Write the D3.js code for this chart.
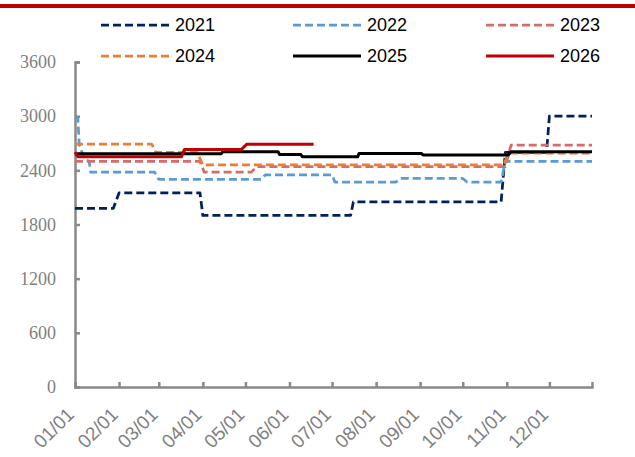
<!DOCTYPE html>
<html>
<head>
<meta charset="utf-8">
<script src="https://cdn.jsdelivr.net/npm/d3@7"></script>
<style>
  html, body { margin: 0; padding: 0; background: #fff; }
  svg { display: block; }
</style>
</head>
<body>
<svg id="chart" width="635" height="457"></svg>
<script>
// tick labels
const months = ['01/01', '02/01', '03/01', '04/01', '05/01', '06/01', '07/01', '08/01', '09/01', '10/01', '11/01', '12/01']
const yTicks = [0, 600, 1200, 1800, 2400, 3000, 3600]
const years = ['2021', '2022', '2023', '2024', '2025', '2026']

// series values, [month-day, value]
const series2021 = [['01-01', 1980], ['01-28', 1980], ['02-01', 2150], ['03-30', 2150], ['04-01', 1900], ['07-14', 1900], ['07-16', 2050], ['10-28', 2050], ['10-31', 2600], ['11-29', 2600], ['12-01', 3000], ['12-31', 3000]]
const series2022 = [['01-01', 3000], ['01-03', 2980], ['01-04', 2680], ['01-08', 2520], ['01-11', 2500], ['01-12', 2380], ['02-26', 2380], ['03-01', 2300], ['05-12', 2300], ['05-15', 2350], ['07-01', 2350], ['07-03', 2270], ['08-15', 2270], ['08-18', 2310], ['10-01', 2310], ['10-04', 2270], ['10-28', 2270], ['10-31', 2500], ['12-31', 2500]]
const series2023 = [['01-01', 2500], ['03-30', 2500], ['04-02', 2380], ['05-05', 2380], ['05-09', 2440], ['10-31', 2440], ['11-04', 2680], ['12-31', 2680]]
const series2024 = [['01-01', 2690], ['02-24', 2690], ['02-27', 2600], ['03-28', 2600], ['04-01', 2460], ['10-30', 2460], ['11-02', 2590], ['12-31', 2590]]
const series2025 = [['01-01', 2585], ['04-14', 2585], ['04-15', 2605], ['05-24', 2605], ['05-25', 2576], ['06-09', 2576], ['06-10', 2550], ['07-19', 2550], ['07-20', 2587], ['09-02', 2587], ['09-03', 2570], ['11-02', 2570], ['11-04', 2605], ['12-31', 2605]]
const series2026 = [['01-01', 2600], ['01-03', 2550], ['03-17', 2550], ['03-19', 2630], ['04-28', 2630], ['05-02', 2690], ['06-18', 2690]]

const colors = ['#002060', '#5b9bd5', '#d46c6c', '#ed7d31', '#000000', '#c00000']
const dashed = [true, true, true, true, false, false]

const width = 635
const height = 457
const margin = { top: 62, right: 43, bottom: 70, left: 75 }

// all series plotted on one reference year
const parse = d3.timeParse('%Y-%m-%d')
const toDate = (md) => parse('2025-' + md)

const allSeries = [series2021, series2022, series2023, series2024, series2025, series2026].map(
  (s, i) => ({
    name: years[i],
    color: colors[i],
    dashed: dashed[i],
    values: s.map((d) => ({ date: toDate(d[0]), value: d[1] })),
  })
)

const svg = d3.select('#chart')

// top red rule
svg
  .append('rect')
  .attr('x', 0)
  .attr('y', 4)
  .attr('width', width)
  .attr('height', 4)
  .attr('fill', '#c00000')

const x = d3
  .scaleTime()
  .domain([toDate('01-01'), toDate('12-31')])
  .range([margin.left, width - margin.right])

const y = d3
  .scaleLinear()
  .domain([0, 3600])
  .range([height - margin.bottom, margin.top])

// y axis
svg
  .append('g')
  .attr('id', 'yAxis')
  .attr('transform', `translate(${margin.left},0)`)
  .call(
    d3
      .axisLeft(y)
      .tickValues(yTicks)
      .tickFormat(d3.format('d'))
      .tickSize(-5)
      .tickSizeOuter(-5)
      .tickPadding(19)
  )
  .call((g) => {
    g.selectAll('path, line').attr('stroke', '#898989').attr('stroke-width', 2.5)
    g.selectAll('text')
      .style('font-family', '"Liberation Serif", "Times New Roman", serif')
      .style('font-size', '18px')
      .attr('fill', '#7f7f7f')
  })

// x axis
svg
  .append('g')
  .attr('id', 'xAxis')
  .attr('transform', `translate(0,${height - margin.bottom})`)
  .call(
    d3
      .axisBottom(x)
      .tickValues(months.map((m) => toDate(m.replace('/', '-'))))
      .tickFormat((d, i) => months[i])
      .tickSize(-5)
      .tickSizeOuter(-5)
  )
  .call((g) => {
    g.selectAll('path, line').attr('stroke', '#898989').attr('stroke-width', 2.5)
    g.selectAll('text')
      .style('font-family', '"Liberation Sans", Arial, sans-serif')
      .style('font-size', '19px')
      .attr('fill', '#7f7f7f')
      .attr('text-anchor', 'end')
      .attr('y', 0)
      .attr('dy', '0.35em')
      .attr('transform', 'translate(-5,24) rotate(-45)')
  })

// lines
const line = d3
  .line()
  .x((d) => x(d.date))
  .y((d) => y(d.value))

svg
  .append('g')
  .attr('id', 'lines')
  .selectAll('path')
  .data(allSeries)
  .join('path')
  .attr('d', (d) => line(d.values))
  .attr('fill', 'none')
  .attr('stroke', (d) => d.color)
  .attr('stroke-width', (d) => (d.dashed ? 2.75 : 3))
  .attr('stroke-dasharray', (d) => (d.dashed ? '8,4' : null))
  .attr('stroke-linejoin', 'round')

// legend
const legendCols = [101, 293, 486]
const legendRows = [25, 56]

const legendItem = svg
  .append('g')
  .attr('id', 'legend')
  .selectAll('g')
  .data(allSeries)
  .join('g')
  .attr('transform', (d, i) => `translate(${legendCols[i % 3]},${legendRows[Math.floor(i / 3)]})`)

legendItem
  .append('line')
  .attr('x1', 0)
  .attr('x2', 68)
  .attr('stroke', (d) => d.color)
  .attr('stroke-width', (d) => (d.dashed ? 2.75 : 3))
  .attr('stroke-dasharray', (d) => (d.dashed ? '8,4' : null))

legendItem
  .append('text')
  .attr('x', 74)
  .attr('dy', '0.35em')
  .style('font-family', '"Liberation Sans", Arial, sans-serif')
  .style('font-size', '18px')
  .attr('fill', '#000')
  .text((d) => d.name)
</script>
</body>
</html>
